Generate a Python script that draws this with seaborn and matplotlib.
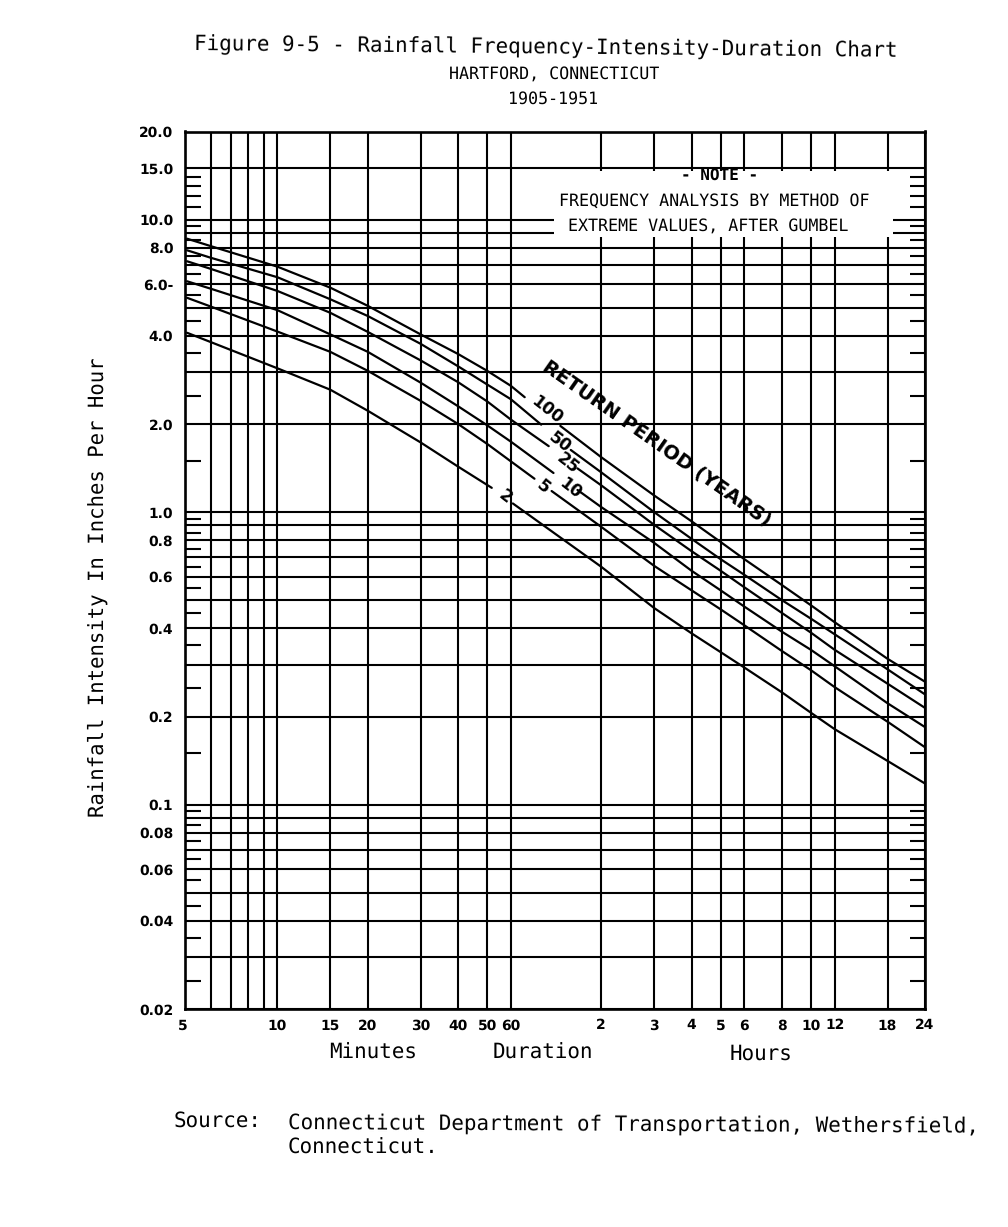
"""Rainfall frequency-intensity-duration chart for Hartford, Connecticut."""
import matplotlib.pyplot as plt
import pandas as pd
import seaborn as sns
from matplotlib.patches import Rectangle
from matplotlib.ticker import NullFormatter

# durations in minutes either side of the curve labels
MINUTES_LEFT = [5, 6, 10, 15, 20, 30, 40, 50, 60]
MINUTES_RIGHT = [120, 180, 240, 300, 360, 480, 600, 720, 1080, 1440]

# where each curve stops and restarts around its label
GAP_100 = [66.7, 87.7]
GAP_50 = [75.7, 95]
GAP_25 = [80.2, 100]
GAP_10 = [83.2, 100]
GAP_5 = [71.9, 82]
GAP_2 = [51.8, 60.9]

# inches per hour
LEFT_100 = [8.6, 8.11, 6.9, 5.85, 5.07, 4.05, 3.47, 3.04, 2.70, 2.47]
RIGHT_100 = [1.97, 1.54, 1.14, 0.93, 0.79, 0.69, 0.563, 0.48, 0.42, 0.315, 0.263]
LEFT_50 = [7.85, 7.4, 6.35, 5.34, 4.68, 3.76, 3.15, 2.73, 2.43, 1.99]
RIGHT_50 = [1.63, 1.367, 1.0, 0.81, 0.69, 0.61, 0.50, 0.432, 0.382, 0.29, 0.238]
LEFT_25 = [7.2, 6.78, 5.7, 4.8, 4.13, 3.3, 2.78, 2.39, 2.07, 1.68]
RIGHT_25 = [1.41, 1.234, 0.905, 0.735, 0.63, 0.553, 0.452, 0.387, 0.338, 0.259, 0.214]
LEFT_10 = [6.15, 5.8, 4.9, 4.05, 3.53, 2.77, 2.3, 1.98, 1.74, 1.36]
RIGHT_10 = [1.19, 1.04, 0.785, 0.63, 0.54, 0.475, 0.39, 0.338, 0.297, 0.222, 0.184]
LEFT_5 = [5.4, 5.04, 4.14, 3.53, 3.04, 2.4, 2.0, 1.71, 1.49, 1.30]
RIGHT_5 = [1.18, 0.89, 0.655, 0.54, 0.465, 0.41, 0.335, 0.288, 0.252, 0.192, 0.157]
LEFT_2 = [4.1, 3.81, 3.1, 2.62, 2.22, 1.73, 1.43, 1.21]
RIGHT_2 = [1.07, 0.65, 0.47, 0.385, 0.332, 0.294, 0.242, 0.206, 0.181, 0.141, 0.118]

X_TICKS = [5, 10, 15, 20, 30, 40, 50, 60, 120, 180, 240, 300, 360, 480, 600, 720, 1080, 1440]
X_LABELS = ["5", "10", "15", "20", "30", "40", "50", "60", "2", "3", "4", "5", "6", "8", "10", "12", "18", "24"]
X_GRID_EXTRA = [6, 7, 8, 9]

Y_TICKS = [20, 15, 10, 8, 6, 4, 2, 1, 0.8, 0.6, 0.4, 0.2, 0.1, 0.08, 0.06, 0.04, 0.02]
Y_LABELS = ["20.0", "15.0", "10.0", "8.0", "6.0-", "4.0", "2.0", "1.0", "0.8", "0.6", "0.4", "0.2", "0.1", "0.08", "0.06", "0.04", "0.02"]
Y_GRID_EXTRA = [9, 7, 5, 3, 0.9, 0.7, 0.5, 0.3, 0.09, 0.07, 0.05, 0.03]
Y_SHORT = [14, 13, 12, 11, 9.5, 8.5, 7.5, 6.5, 5.5, 4.5, 3.5, 2.5, 1.5,
           0.95, 0.85, 0.75, 0.65, 0.55, 0.45, 0.35, 0.25, 0.15,
           0.095, 0.085, 0.075, 0.065, 0.055, 0.045, 0.035, 0.025]

sns.set_theme(style="white")
plt.rcParams["font.family"] = ["DejaVu Sans Mono", "DejaVu Sans"]
plt.rcParams["text.hinting"] = "no_hinting"


def curve_rows(name, gap, left, right):
    """Long-form rows for one return period, split in two around its label."""
    x_left = MINUTES_LEFT[: len(left) - 1] + [gap[0]]
    x_right = [gap[1]] + MINUTES_RIGHT
    rows = pd.concat(
        [
            pd.DataFrame({"minutes": x_left, "intensity": left, "part": f"{name}a"}),
            pd.DataFrame({"minutes": x_right, "intensity": right, "part": f"{name}b"}),
        ]
    )
    rows["period"] = name
    return rows


curves = pd.concat(
    [
        curve_rows("100", GAP_100, LEFT_100, RIGHT_100),
        curve_rows("50", GAP_50, LEFT_50, RIGHT_50),
        curve_rows("25", GAP_25, LEFT_25, RIGHT_25),
        curve_rows("10", GAP_10, LEFT_10, RIGHT_10),
        curve_rows("5", GAP_5, LEFT_5, RIGHT_5),
        curve_rows("2", GAP_2, LEFT_2, RIGHT_2),
    ],
    ignore_index=True,
)

W, H = 1008, 1227
fig = plt.figure(figsize=(W / 100, H / 100), dpi=100, facecolor="white")
ax = fig.add_axes([184.5 / W, 1 - 1009 / H, 740.5 / W, 877.5 / H])


def put(x, y, text, **kw):
    """Place a text at reference pixel coordinates."""
    kw.setdefault("ha", "center")
    kw.setdefault("va", "center")
    kw.setdefault("color", "black")
    kw.setdefault("rotation_mode", "anchor")
    fig.text(x / W, 1 - y / H, text, **kw)


ax.set_xscale("log")
ax.set_yscale("log")
ax.set_xticks(X_TICKS, X_LABELS)
ax.set_yticks(Y_TICKS, Y_LABELS)
ax.set_xticks(X_GRID_EXTRA, minor=True)
ax.set_yticks(Y_GRID_EXTRA, minor=True)
ax.xaxis.set_minor_formatter(NullFormatter())
ax.yaxis.set_minor_formatter(NullFormatter())
ax.set_xlim(4.9, 1440)
ax.set_ylim(0.02, 20)

ax.set_axisbelow(True)
ax.grid(which="both", color="black", lw=1.5)
ax.xaxis.get_major_ticks()[0].gridline.set_visible(False)
ax.tick_params(which="both", length=0)
ax.tick_params(axis="x", pad=7, labelsize=10, labelcolor="black")
ax.tick_params(axis="y", pad=8, labelsize=10, labelcolor="black")
for label in ax.get_xticklabels() + ax.get_yticklabels():
    label.set_family("DejaVu Sans")
    label.set_fontweight("bold")
ax.get_xticklabels()[0].set_ha("right")
for spine in ax.spines.values():
    spine.set_color("black")
    spine.set_linewidth(1.9)

# short marks along both edges
y_edge = ax.get_yaxis_transform()
ax.hlines(Y_SHORT, 0, 0.022, transform=y_edge, color="black", lw=1.5)
ax.hlines(Y_SHORT, 0.98, 1, transform=y_edge, color="black", lw=1.5)

# blank panel for the note
ax.add_patch(Rectangle((83.5, 8.71), 1130 - 83.5, 14.66 - 8.71, color="white", lw=0, zorder=1))

sns.lineplot(
    data=curves,
    x="minutes",
    y="intensity",
    units="part",
    estimator=None,
    color="black",
    lw=1.6,
    legend=False,
    ax=ax,
)
ax.set_xlabel("")
ax.set_ylabel("")

put(546, 47, "Figure 9-5 - Rainfall Frequency-Intensity-Duration Chart", fontsize=15, rotation=-0.55)
put(554, 75, "HARTFORD, CONNECTICUT", fontsize=12)
put(553, 99, "1905-1951", fontsize=12)
put(98, 587, "Rainfall Intensity In Inches Per Hour", fontsize=14.9, rotation=90)

put(720, 176, "- NOTE -", fontsize=11.5, fontweight="bold")
put(714, 201, "FREQUENCY ANALYSIS BY METHOD OF", fontsize=12)
put(708, 227, "EXTREME VALUES, AFTER GUMBEL", fontsize=12)

put(657, 443, "RETURN PERIOD (YEARS)", fontsize=14, fontweight="bold", family="DejaVu Sans", rotation=-35)
for x, y, text in [(547, 410, "100"), (560, 442, "50"), (568, 463, "25"),
                   (570, 488, "10"), (543, 487, "5"), (505, 497, "2")]:
    put(x, y, text, fontsize=12, fontweight="bold", family="DejaVu Sans", rotation=-38)

put(373, 1053, "Minutes", fontsize=15)
put(543, 1053, "Duration", fontsize=15)
put(761, 1054, "Hours", fontsize=15)

put(174, 1121, "Source:", fontsize=15, ha="left")
put(288, 1123, "Connecticut Department of Transportation, Wethersfield,", fontsize=15, ha="left", rotation=-0.3)
put(288, 1148, "Connecticut.", fontsize=15, ha="left")

fig.savefig("out.png", dpi=100, facecolor="white")
